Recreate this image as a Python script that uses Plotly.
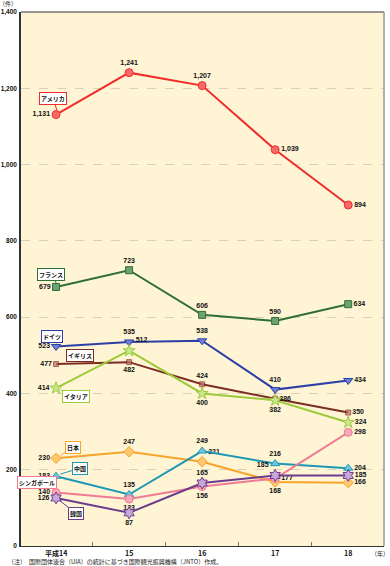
import plotly.graph_objects as go

years = ["平成14", "15", "16", "17", "18"]
x_idx = [0, 1, 2, 3, 4]

countries = ["アメリカ", "フランス", "ドイツ", "イギリス", "イタリア", "日本", "中国", "シンガポール", "韓国"]
usa = [1131, 1241, 1207, 1039, 894]
france = [679, 723, 606, 590, 634]
germany = [523, 535, 538, 410, 434]
uk = [477, 482, 424, 386, 350]
italy = [414, 512, 400, 382, 324]
japan = [230, 247, 221, 168, 166]
china = [183, 135, 249, 216, 204]
singapore = [140, 123, 156, 177, 298]
korea = [126, 87, 165, 185, 185]
y_ticks = [0, 200, 400, 600, 800, 1000, 1200, 1400]

series = [usa, france, germany, uk, italy, japan, china, singapore, korea]
colors = ["#F22B2B", "#2F6E36", "#2C3FA6", "#7B2D22", "#9CCB3A", "#F5A52A", "#1E97B5", "#F07A93", "#6B3B8C"]
fills = ["#F86A6A", "#6FA070", "#7080D0", "#C07060", "#C8E890", "#FFC870", "#70C8E0", "#F8A8B8", "#C8A8D8"]
symbols = ["circle", "square", "triangle-down", "line", "star", "diamond", "triangle-up", "circle", "hexagram"]
sizes = [8, 7, 8, 6, 9, 8, 8, 8, 9]
positions = [
    ["middle left", "top center", "top center", "middle right", "middle right"],
    ["middle left", "top center", "top center", "top center", "middle right"],
    ["middle left", "top center", "top center", "top center", "middle right"],
    ["middle left", "bottom center", "top center", "middle right", "middle right"],
    ["middle left", "top right", "bottom center", "bottom center", "middle right"],
    ["middle left", "top center", "top right", "bottom center", "middle right"],
    ["middle left", "top center", "top center", "top center", "middle right"],
    ["middle left", "bottom center", "bottom center", "middle right", "middle right"],
    ["middle left", "bottom center", "top center", "top left", "middle right"],
]
# callout label box centres (data coords) and arrow tips
callouts = [
    (-0.04, 1174, 0.02, 1137),
    (-0.07, 713, 0.02, 684),
    (-0.06, 550, 0.02, 527),
    (0.33, 500, 0.45, 479),
    (0.27, 393, 0.03, 412),
    (0.23, 259, 0.03, 234),
    (0.33, 204, 0.03, 187),
    (-0.26, 166, 0, 146),
    (0.27, 86, 0.03, 122),
]

NUMFONT = "Liberation Sans, Arial, sans-serif"
JPFONT = "Noto Sans CJK JP"

fig = go.Figure()
for name, vals, col, fc, sym, sz, pos in zip(countries, series, colors, fills, symbols, sizes, positions):
    if sym == "line":
        marker = dict(symbol="square", size=[5] * 5, color=fc, line=dict(color=col, width=1))
    else:
        marker = dict(symbol=sym, size=sz, color=fc, line=dict(color=col, width=1))
    fig.add_trace(go.Scatter(
        x=x_idx, y=vals, name=name, mode="lines+markers+text",
        line=dict(color=col, width=2),
        marker=marker,
        text=[f"{v:,}" for v in vals],
        textposition=pos,
        textfont=dict(family=NUMFONT, size=7, color="#111111", weight="bold"),
        cliponaxis=False,
        showlegend=False,
        hoverinfo="skip",
    ))

for name, col, (ax, ay, tx, ty) in zip(countries, colors, callouts):
    fig.add_annotation(
        x=tx, y=ty, ax=ax, ay=ay, xref="x", yref="y", axref="x", ayref="y",
        text=name, showarrow=True, arrowhead=0, arrowwidth=1, arrowcolor=col, standoff=2,
        bgcolor="white", bordercolor=col, borderwidth=1, borderpad=1,
        font=dict(family=JPFONT, size=6, color="#111111", weight="bold"),
    )

# x category labels
for xi, lab in zip(x_idx, years):
    fig.add_annotation(x=xi, y=-7 / 534, xref="x", yref="paper", text=lab, showarrow=False,
                       xanchor="center", yanchor="middle",
                       font=dict(family=JPFONT, size=7, color="#111", weight="bold"))

fig.add_annotation(x=-2 / 363, y=1 + 8 / 534, xref="paper", yref="paper", text="（件）", showarrow=False,
                   xanchor="right", yanchor="middle",
                   font=dict(family=JPFONT, size=6, color="#222"))
fig.add_annotation(x=(391 - 21) / 363, y=-7 / 534, xref="paper", yref="paper", text="（年）", showarrow=False,
                   xanchor="right", yanchor="middle",
                   font=dict(family=JPFONT, size=6, color="#222"))
fig.add_annotation(x=-15 / 363, y=-15 / 534, xref="paper", yref="paper",
                   text="（注）　国際団体連合（UIA）の統計に基づき国際観光振興機構（JNTO）作成。",
                   showarrow=False, xanchor="left", yanchor="middle",
                   font=dict(family=JPFONT, size=6, color="#222"))

fig.update_layout(
    width=390, height=566,
    margin=dict(l=21, r=6, t=12, b=20, autoexpand=False),
    paper_bgcolor="white", plot_bgcolor="#FFF5D5",
    font=dict(family=JPFONT, size=7, color="#111"),
)
fig.update_xaxes(
    range=[-0.48, 4.49], tickvals=[0.5, 1.5, 2.5, 3.5], showticklabels=False,
    ticks="inside", ticklen=4, tickcolor="#777",
    showgrid=False, zeroline=False, showline=True, linecolor="#333", linewidth=1, mirror=False,
    automargin=False,
)
fig.update_yaxes(
    range=[0, 1400], tickvals=y_ticks,
    ticktext=[f"{v:,}" for v in y_ticks],
    tickfont=dict(family=NUMFONT, size=6.5, color="#111", weight="bold"),
    showgrid=True, gridcolor="#D8D0B8", griddash="dash", gridwidth=1,
    zeroline=False, showline=True, linecolor="#333", linewidth=1.5, ticks="",
    ticklabelstandoff=1, automargin=False,
)
# top and right borders
fig.add_shape(type="line", xref="paper", yref="paper", x0=0, x1=1, y0=1, y1=1, line=dict(color="#333", width=1))
fig.add_shape(type="line", xref="paper", yref="paper", x0=1, x1=1, y0=0, y1=1, line=dict(color="#999", width=1.5))

fig.write_html("out.html", config={"displayModeBar": False},
               post_script="document.body.style.margin='0';")
